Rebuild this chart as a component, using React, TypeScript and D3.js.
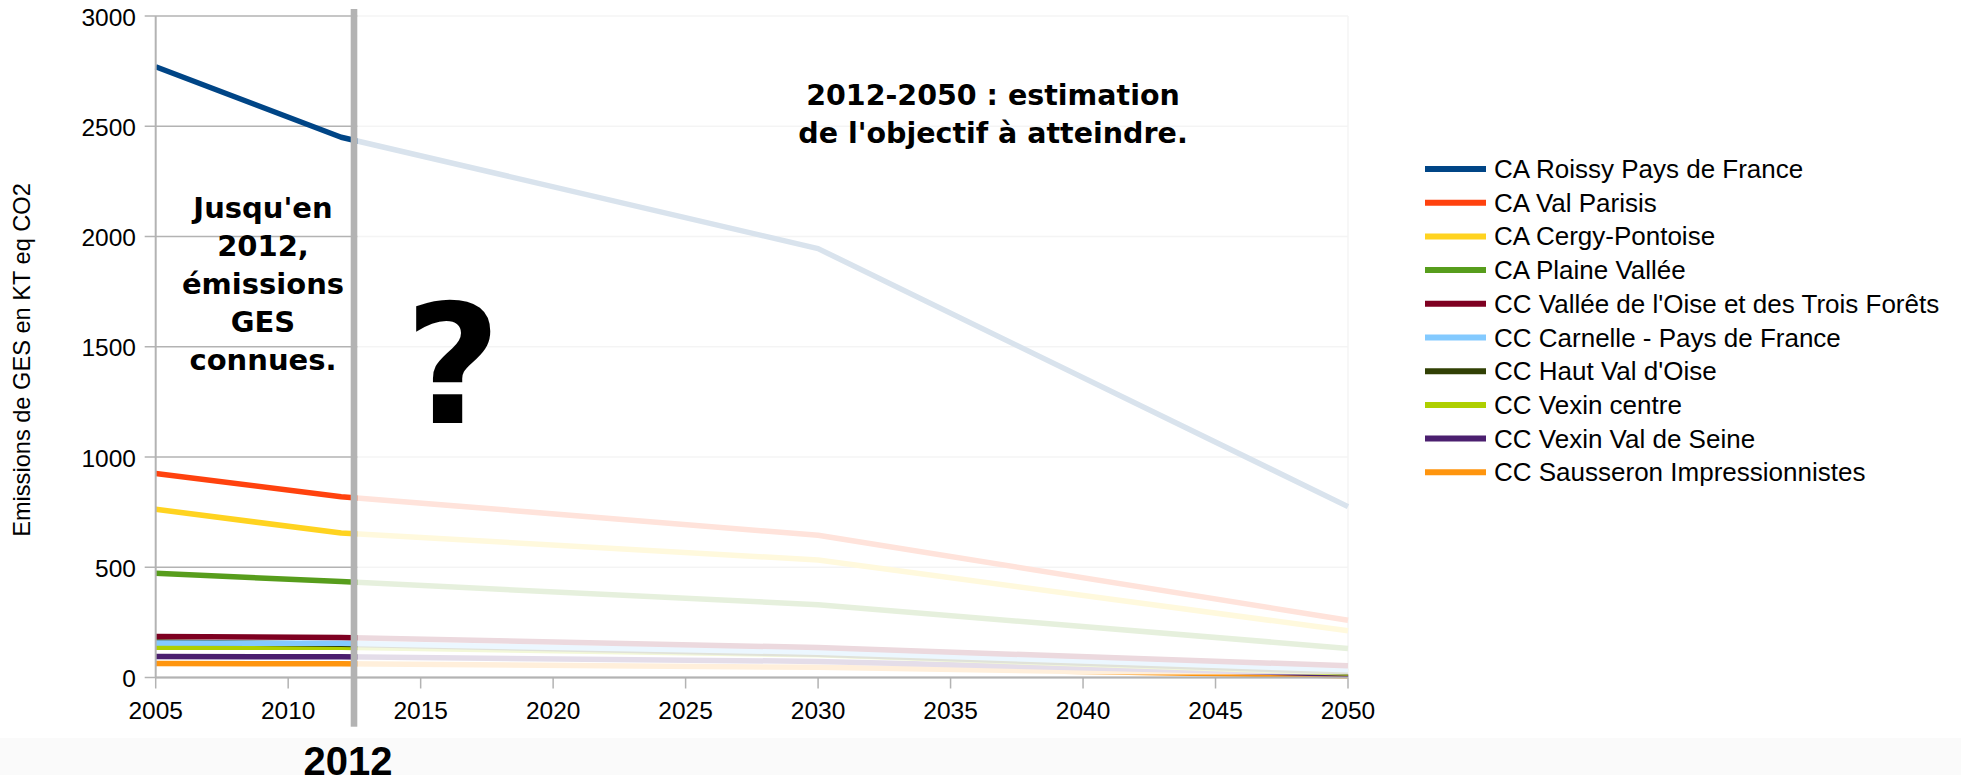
import React from "react";
import * as d3 from "d3";

const years = [2005, 2012, 2030, 2050];
const seriesNames = [
  "CA Roissy Pays de France",
  "CA Val Parisis",
  "CA Cergy-Pontoise",
  "CA Plaine Vallée",
  "CC Vallée de l'Oise et des Trois Forêts",
  "CC Carnelle - Pays de France",
  "CC Haut Val d'Oise",
  "CC Vexin centre",
  "CC Vexin Val de Seine",
  "CC Sausseron Impressionnistes",
];
const roissy = [2770, 2450, 1945, 775];
const valParisis = [925, 820, 645, 260];
const cergy = [763, 655, 533, 212];
const plaineVallee = [473, 435, 330, 132];
const valleeOise = [186, 181, 136, 53];
const carnelle = [156, 155, 115, 35];
const hautValOise = [161, 151, 105, 25];
const vexinCentre = [137, 137, 103, 20];
const vexinSeine = [95, 94, 73, 15];
const sausseron = [63, 62, 46, 8];
const seriesValues = [roissy, valParisis, cergy, plaineVallee, valleeOise, carnelle, hautValOise, vexinCentre, vexinSeine, sausseron];
const colors = ["#004586", "#ff420e", "#ffd320", "#579d1c", "#7e0021", "#83caff", "#314004", "#aecf00", "#4b1f6f", "#ff950e"];
const yTicks = [0, 500, 1000, 1500, 2000, 2500, 3000];
const xTicks = [2005, 2010, 2015, 2020, 2025, 2030, 2035, 2040, 2045, 2050];
const leftNote = ["Jusqu'en", "2012,", "émissions", "GES", "connues."];
const rightNote = ["2012-2050 : estimation", "de l'objectif à atteindre."];
const markYear = "2012";

export default function App() {
  const W = 1961, H = 775;
  const x = d3.scaleLinear().domain([2005, 2050]).range([155.7, 1348]);
  const y = d3.scaleLinear().domain([0, 3000]).range([677.5, 16]);
  const line = d3.line<number>().x((_, i) => x(years[i])).y((d) => y(d));
  const sans = "'Liberation Sans', Arial, sans-serif";
  const bold = "'DejaVu Sans', Verdana, sans-serif";
  const grid = "#b3b3b3";
  const x0 = x(2005), x1 = x(2050);
  const barX = 350.7, barW = 6.6;
  const order = seriesValues.map((_, i) => i).reverse();
  return (
    <svg width={W} height={H} style={{ position: "absolute", left: 0, top: 0, background: "#fff" }}>
      <rect x={0} y={0} width={W} height={H} fill="#fff" />
      <rect x={0} y={738} width={W} height={H - 738} fill="#fafafa" />
      {yTicks.map((t) => (
        <g key={"y" + t}>
          <line x1={x0 - 11} x2={x1} y1={y(t)} y2={y(t)} stroke={grid} strokeWidth={1.5} />
          <text x={136} y={y(t) + 9.5} textAnchor="end" fontFamily={sans} fontSize={24.5} fill="#000">{t}</text>
        </g>
      ))}
      <line x1={x1} x2={x1} y1={y(3000)} y2={y(0)} stroke={grid} strokeWidth={1.5} />
      {order.map((i) => (
        <path key={"s" + i} d={line(seriesValues[i]) || ""} fill="none" stroke={colors[i]} strokeWidth={5.5} strokeLinejoin="round" />
      ))}
      <rect x={barX + barW} y={9} width={x1 + 3 - (barX + barW)} height={674.5 - 9} fill="#fff" opacity={0.85} />
      <line x1={x0} x2={x0} y1={y(3000)} y2={y(0)} stroke={grid} strokeWidth={2} />
      <line x1={x0} x2={x1} y1={y(0)} y2={y(0)} stroke={grid} strokeWidth={2} />
      {xTicks.map((t) => (
        <g key={"x" + t}>
          <line x1={x(t)} x2={x(t)} y1={y(0)} y2={y(0) + 11} stroke={grid} strokeWidth={1.5} />
          <text x={x(t)} y={719.3} textAnchor="middle" fontFamily={sans} fontSize={24.5} fill="#000">{t}</text>
        </g>
      ))}
      <rect x={barX} y={9} width={barW} height={726.7 - 9} fill="#b3b3b3" />
      <text transform={`translate(30,${(183 + 537) / 2}) rotate(-90)`} textAnchor="middle" fontFamily={sans} fontSize={23.6} fill="#000">
        Emissions de GES en KT eq CO2
      </text>
      {leftNote.map((s, i) => (
        <text key={"l" + i} x={263} y={217.5 + i * 38} textAnchor="middle" fontFamily={bold} fontWeight="bold" fontSize={29} fill="#000">{s}</text>
      ))}
      {rightNote.map((s, i) => (
        <text key={"r" + i} x={993} y={105 + i * 37.5} textAnchor="middle" fontFamily={bold} fontWeight="bold" fontSize={28.5} fill="#000">{s}</text>
      ))}
      <text x={453} y={423} textAnchor="middle" fontFamily={bold} fontWeight="bold" fontSize={166} fill="#000">?</text>
      <text x={348} y={774.5} textAnchor="middle" fontFamily={sans} fontWeight="bold" fontSize={40} fill="#000">{markYear}</text>
      {seriesNames.map((n, i) => {
        const cy = 169 + i * 33.7;
        return (
          <g key={"lg" + i}>
            <line x1={1425} x2={1486} y1={cy} y2={cy} stroke={colors[i]} strokeWidth={6} />
            <text x={1494} y={cy + 9} fontFamily={sans} fontSize={26} fill="#000">{n}</text>
          </g>
        );
      })}
    </svg>
  );
}
